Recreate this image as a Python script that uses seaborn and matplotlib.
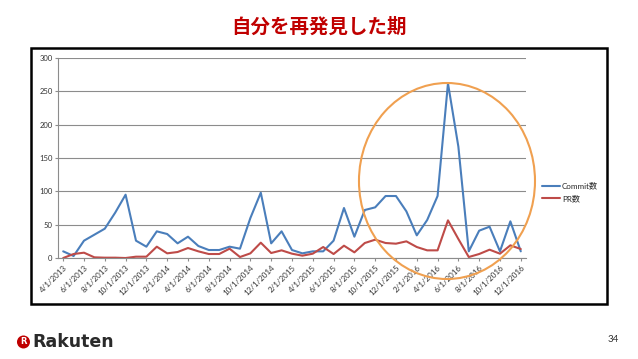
import pandas as pd
import matplotlib.pyplot as plt
import matplotlib.patches as mpatches
import seaborn as sns

# Monthly activity, 4/1/2013 .. 12/1/2016
months = pd.date_range("2013-04-01", "2016-12-01", freq="MS")
month_labels = [f"{d.month}/{d.day}/{d.year}" for d in months]

commit = [10, 3, 26, 35, 44, 68, 95, 26, 17, 40, 36, 22, 32, 18, 12, 12,
          17, 14, 60, 98, 22, 40, 12, 7, 10, 10, 26, 75, 32, 72, 76, 93,
          93, 70, 34, 57, 93, 262, 167, 10, 41, 47, 10, 55, 10]
pr = [0, 6, 8, 1, 0.5, 0.5, 0, 2, 2, 17, 7, 9, 15, 10, 6, 6,
      14, 1.5, 7, 23, 7.5, 11.5, 6.5, 3.5, 6.5, 16.5, 6, 18.5, 8.5, 22.5, 27.5, 22.5,
      21.5, 25, 16.5, 11.5, 11.5, 56.5, 28.5, 1.5, 6, 12.5, 6.5, 19, 13.5]

series_names = ["Commit数", "PR数"]
line_colors = ["#4A7EBB", "#BE4B48"]
y_ticks = [0, 50, 100, 150, 200, 250, 300]

df = pd.DataFrame({"idx": range(len(months)), "Commit数": commit, "PR数": pr})
long_df = df.melt(id_vars="idx", var_name="series", value_name="count")

sns.set_theme(style="white")
plt.rcParams["font.family"] = ["Lato", "Noto Sans CJK JP", "DejaVu Sans"]

fig = plt.figure(figsize=(6.38, 3.59), dpi=100)
fig.patch.set_facecolor("white")
ax = fig.add_axes([0.0909, 0.2813, 0.7335, 0.5571])

sns.lineplot(data=long_df, x="idx", y="count", hue="series", hue_order=series_names,
             palette=line_colors, linewidth=1.5, ax=ax, legend=False)

ax.set_xlim(-0.5, len(months) - 0.5)
ax.set_ylim(0, 300)
ax.set_yticks(y_ticks)
ax.set_yticklabels([str(v) for v in y_ticks], fontsize=5.5, color="#333333")
ax.set_xticks(range(0, len(months), 2))
ax.set_xticklabels(month_labels[::2], rotation=45, ha="right", rotation_mode="anchor",
                   fontsize=5.8, color="#333333")
ax.set_xlabel("")
ax.set_ylabel("")
ax.yaxis.grid(True, color="#8C8C8C", linewidth=0.8)
ax.xaxis.grid(False)
for s in ["top", "right"]:
    ax.spines[s].set_visible(False)
for s in ["left", "bottom"]:
    ax.spines[s].set_color("#8C8C8C")
    ax.spines[s].set_linewidth(0.8)
ax.tick_params(axis="both", which="major", length=2.5, width=0.8, color="#8C8C8C",
               direction="out", pad=1.5, bottom=True, left=True)

# legend to the right of the plot
handles = [plt.Line2D([], [], color=c, linewidth=1.5) for c in line_colors]
fig.legend(handles, series_names, loc="center left", bbox_to_anchor=(0.838, 0.465),
           frameon=False, fontsize=5.8, handlelength=2.2, handletextpad=0.3,
           labelspacing=0.6)

# slide decorations
fig.patches.append(mpatches.Rectangle((0.0486, 0.1532), 0.9028, 0.7131, transform=fig.transFigure,
                                      fill=False, edgecolor="black", linewidth=1.8))
fig.patches.append(mpatches.Ellipse((0.7006, 0.4958), 0.2759, 0.546, transform=fig.transFigure,
                                    fill=False, edgecolor="#F0A050", linewidth=1.5, zorder=5))

fig.text(0.5, 0.925, "自分を再発見した期", ha="center", va="center", fontsize=14,
         fontweight="bold", color="#C00000", family=["Noto Sans CJK JP"])

# Rakuten logo + page number
fig.patches.append(mpatches.Ellipse((0.0368, 0.0474), 13 / 638, 13 / 359, transform=fig.transFigure,
                                    facecolor="#BF0000", edgecolor="none"))
fig.text(0.0368, 0.0474, "R", ha="center", va="center", fontsize=6, fontweight="bold",
         color="white", family=["DejaVu Sans"])
fig.text(0.050, 0.047, "Rakuten", ha="left", va="center", fontsize=12.5,
         fontweight="bold", color="#2A2A2A", family=["DejaVu Sans"])
fig.text(0.970, 0.053, "34", ha="right", va="center", fontsize=7, color="#333333")

fig.savefig("out.png", dpi=100)
